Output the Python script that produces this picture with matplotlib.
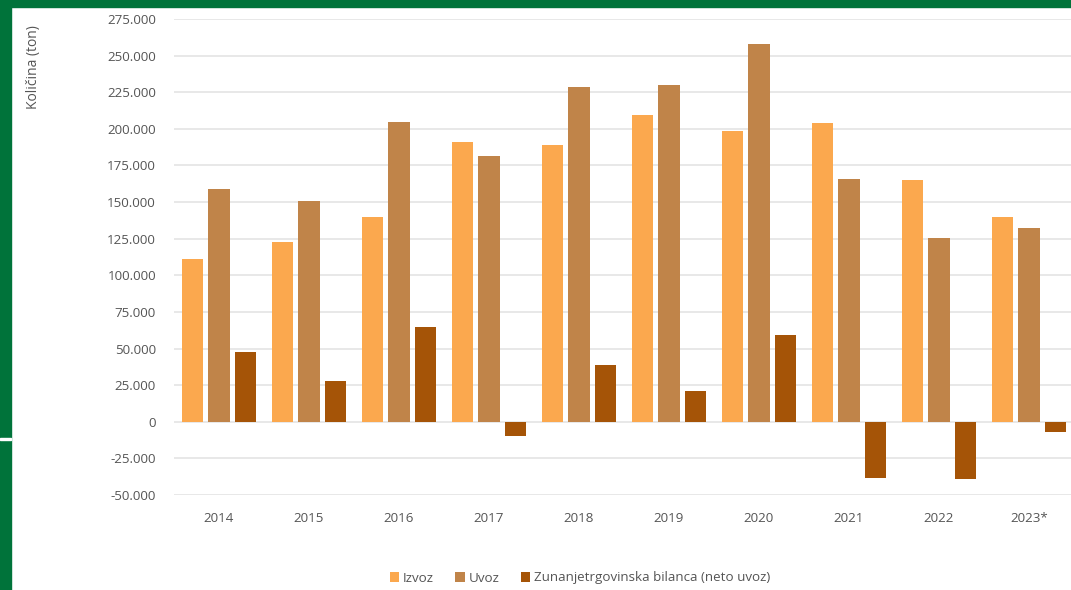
import numpy as np
import matplotlib.pyplot as plt
from matplotlib.ticker import FuncFormatter
from matplotlib.patches import Rectangle

# --- Data (tonnes) ---
years = ["2014", "2015", "2016", "2017", "2018", "2019", "2020", "2021", "2022", "2023*"]
izvoz = [111000, 122500, 140000, 191200, 189000, 209200, 198300, 204200, 165100, 139600]
uvoz = [159200, 150500, 205000, 181700, 228300, 230200, 258000, 166000, 125700, 132500]
bilanca = [47800, 28000, 64900, -9600, 39000, 20800, 59500, -38300, -39300, -7100]

series_names = ["Izvoz", "Uvoz", "Zunanjetrgovinska bilanca (neto uvoz)"]
colors = ["#FBA84E", "#C08449", "#A55407"]

plt.rcParams['font.family'] = ['Open Sans', 'DejaVu Sans']
text_col = "#555555"

fig = plt.figure(figsize=(10.71, 5.90), dpi=100)
fig.patch.set_facecolor("white")

# green frame (top band + left band with a thin white break)
green = "#00733A"
fig.patches.append(Rectangle((0, 1 - 7 / 590), 1, 7 / 590, transform=fig.transFigure,
                             color=green, zorder=0))
fig.patches.append(Rectangle((0, 0), 11 / 1071, 1, transform=fig.transFigure,
                             color=green, zorder=0))
fig.patches.append(Rectangle((0, 1 - 440 / 590), 11 / 1071, 2 / 590, transform=fig.transFigure,
                             color="white", zorder=1))

ax = fig.add_axes([174 / 1071, 1 - 495 / 590, 900 / 1071, (495 - 19) / 590])

x = np.arange(len(years))
w = 0.235
off = 0.29
for i, (vals, name, c) in enumerate(zip([izvoz, uvoz, bilanca], series_names, colors)):
    ax.bar(x + (i - 1) * off, vals, width=w, color=c, label=name, zorder=3)

ax.set_xlim(-0.5, len(years) - 0.5)
ax.set_ylim(-50000, 275000)
ax.set_yticks(np.arange(-50000, 275001, 25000))
ax.yaxis.set_major_formatter(FuncFormatter(lambda v, p: f"{int(v):,}".replace(",", ".")))
ax.set_xticks(x)
ax.set_xticklabels(years)

ax.grid(axis='y', color="#E6E6E6", linewidth=1.3, zorder=0)
ax.set_axisbelow(True)
for s in ax.spines.values():
    s.set_visible(False)
ax.tick_params(axis='both', length=0, labelsize=9.6, colors=text_col)
ax.tick_params(axis='x', pad=12)
ax.tick_params(axis='y', pad=13)

fig.text(33 / 1071, 1 - 67 / 590, "Količina (ton)", rotation=90, ha='center', va='center',
         fontsize=10, color=text_col)

fig.legend(loc='center', bbox_to_anchor=(580 / 1071, 1 - 578 / 590), ncol=3, frameon=False,
           fontsize=9.6, handlelength=0.7, handleheight=0.7, handletextpad=0.3,
           columnspacing=1.6, labelcolor=text_col)

fig.savefig("out.png", dpi=100)
